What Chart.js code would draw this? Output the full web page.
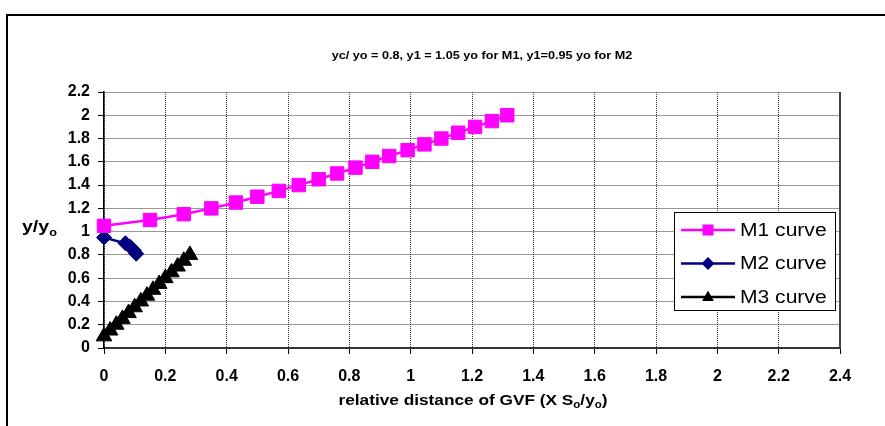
<!DOCTYPE html>
<html>
<head>
<meta charset="utf-8">
<script src="https://cdn.jsdelivr.net/npm/chart.js@4"></script>
<style>
  body { margin: 0; background: #fff; }
  #wrap { width: 885px; height: 426px; }
</style>
</head>
<body>
<div id="wrap"><canvas id="gvfChart" width="885" height="426"></canvas></div>
<script>
// values
var m1X = [0, 0.15, 0.26, 0.35, 0.43, 0.50, 0.57, 0.635, 0.70, 0.76, 0.82, 0.875, 0.93, 0.99, 1.045, 1.10, 1.155, 1.21, 1.265, 1.315];
var m1Y = [1.05, 1.10, 1.15, 1.20, 1.25, 1.30, 1.35, 1.40, 1.45, 1.50, 1.55, 1.60, 1.65, 1.70, 1.75, 1.80, 1.85, 1.90, 1.95, 2.00];
var m2X = [0, 0.07, 0.085, 0.097, 0.105];
var m2Y = [0.95, 0.90, 0.87, 0.84, 0.81];
var m3X = [0, 0.02, 0.04, 0.06, 0.08, 0.10, 0.12, 0.14, 0.16, 0.18, 0.20, 0.22, 0.24, 0.26, 0.28];
var m3Y = [0.10, 0.15, 0.20, 0.25, 0.30, 0.35, 0.40, 0.45, 0.50, 0.55, 0.60, 0.65, 0.70, 0.75, 0.80];
var seriesNames = ["M1 curve", "M2 curve", "M3 curve"];
var chartTitle = "yc/ yo = 0.8, y1 = 1.05 yo for M1, y1=0.95 yo for M2";

var FONT = "'Liberation Sans', Arial, sans-serif";
var SX = 1.15; // the picture's text is a bit wide

function pts(xs, ys) {
	return xs.map(function (x, i) { return { x: x, y: ys[i] }; });
}

//draws text made of parts, some of them subscript
function richText(ctx, parts, x, y, size, align) {
	var subSize = Math.round(size * 0.65);
	var total = 0;
	parts.forEach(function (p) {
		ctx.font = "bold " + (p.sub ? subSize : size) + "px " + FONT;
		p.w = ctx.measureText(p.t).width;
		total += p.w;
	});
	var cx = align === 'center' ? x - total * SX / 2 : x;
	ctx.save();
	ctx.translate(cx, y);
	ctx.scale(SX, 1);
	ctx.textAlign = 'left';
	ctx.textBaseline = 'alphabetic';
	ctx.fillStyle = '#000';
	var off = 0;
	parts.forEach(function (p) {
		ctx.font = "bold " + (p.sub ? subSize : size) + "px " + FONT;
		ctx.fillText(p.t, off, p.sub ? size * 0.22 : 0);
		off += p.w;
	});
	ctx.restore();
}

function marker(ctx, style, x, y, r, color) {
	ctx.fillStyle = color;
	ctx.beginPath();
	if (style === 'rect') {
		ctx.rect(x - r, y - r, 2 * r, 2 * r);
	} else if (style === 'rectRot') {
		ctx.moveTo(x, y - r); ctx.lineTo(x + r, y); ctx.lineTo(x, y + r); ctx.lineTo(x - r, y);
	} else {
		ctx.moveTo(x, y - r); ctx.lineTo(x + r * 0.9, y + r * 0.6); ctx.lineTo(x - r * 0.9, y + r * 0.6);
	}
	ctx.closePath();
	ctx.fill();
}

var decor = {
	id: 'decor',
	afterDraw: function (chart) {
		var ctx = chart.ctx;
		var area = chart.chartArea;
		ctx.save();
		//outer frame
		ctx.strokeStyle = '#000';
		ctx.lineWidth = 2;
		ctx.beginPath();
		ctx.moveTo(7, 426); ctx.lineTo(7, 15); ctx.lineTo(885, 15);
		ctx.stroke();
		//right edge of plot area
		ctx.strokeStyle = '#444';
		ctx.lineWidth = 2;
		ctx.beginPath();
		ctx.moveTo(area.right, area.top); ctx.lineTo(area.right, area.bottom);
		ctx.stroke();
		ctx.restore();

		richText(ctx, [{ t: chartTitle }], 482, 59, 11, 'center');
		richText(ctx, [{ t: 'y/y' }, { t: 'o', sub: true }], 22, 232, 17, 'left');
		richText(ctx, [{ t: 'relative distance of GVF (X S' }, { t: 'o', sub: true }, { t: '/y' }, { t: 'o', sub: true }, { t: ')' }], 473, 405, 15, 'center');

		//legend box
		ctx.save();
		ctx.fillStyle = '#fff';
		ctx.fillRect(674.5, 212.5, 161, 98);
		ctx.strokeStyle = '#000';
		ctx.lineWidth = 1;
		ctx.strokeRect(674.5, 212.5, 161, 98);
		var rows = [230, 263.5, 297];
		chart.data.datasets.forEach(function (ds, i) {
			var y = rows[i];
			ctx.strokeStyle = ds.borderColor;
			ctx.lineWidth = 2.5;
			ctx.beginPath();
			ctx.moveTo(681, y); ctx.lineTo(735, y);
			ctx.stroke();
			marker(ctx, ds.pointStyle, 708, y, ds.pointStyle === 'rect' ? 5.5 : 6.5, ds.backgroundColor);
			ctx.save();
			ctx.translate(740, y);
			ctx.scale(1.17, 1);
			ctx.font = "18px " + FONT;
			ctx.fillStyle = '#000';
			ctx.textBaseline = 'middle';
			ctx.fillText(ds.label, 0, 1);
			ctx.restore();
		});
		ctx.restore();
	}
};

var gvfChart = new Chart(document.getElementById('gvfChart'), {
	type: 'scatter',
	data: {
		datasets: [
			//M1
			{
				label: seriesNames[0],
				data: pts(m1X, m1Y),
				showLine: true,
				borderColor: '#FF00FF',
				backgroundColor: '#FF00FF',
				borderWidth: 2.5,
				pointStyle: 'rect',
				pointRadius: 9.5,
				pointBorderWidth: 1,
				clip: false
			},
			//M2
			{
				label: seriesNames[1],
				data: pts(m2X, m2Y),
				showLine: true,
				borderColor: '#000080',
				backgroundColor: '#000080',
				borderWidth: 2.5,
				pointStyle: 'rectRot',
				pointRadius: 7.5,
				pointBorderWidth: 1,
				clip: false
			},
			//M3
			{
				label: seriesNames[2],
				data: pts(m3X, m3Y),
				showLine: true,
				borderColor: '#000000',
				backgroundColor: '#000000',
				borderWidth: 2,
				pointStyle: 'triangle',
				pointRadius: 9,
				pointBorderWidth: 1,
				clip: false
			}
		]
	},
	options: {
		responsive: false,
		animation: false,
		layout: { padding: { left: 0, right: 45, top: 92, bottom: 0 } },
		plugins: {
			legend: { display: false },
			title: { display: false },
			tooltip: { enabled: false }
		},
		scales: {
			x: {
				type: 'linear',
				min: 0,
				max: 2.4,
				afterFit: function (s) { s.height = 78; },
				ticks: {
					stepSize: 0.2,
					color: '#000',
					font: { family: FONT, size: 16, weight: 'bold' },
					padding: 13,
					maxRotation: 0,
					callback: function (v) { return String(+v.toFixed(1)); }
				},
				grid: { color: '#333', lineWidth: 1, tickLength: 6, tickColor: '#000', tickBorderDash: [] },
				border: { color: '#333', width: 2, dash: [1, 1] }
			},
			y: {
				type: 'linear',
				min: 0,
				max: 2.2,
				afterFit: function (s) { s.width = 104; },
				ticks: {
					stepSize: 0.2,
					color: '#000',
					font: { family: FONT, size: 16, weight: 'bold' },
					padding: 8,
					callback: function (v) { return String(+v.toFixed(1)); }
				},
				grid: { color: '#333', lineWidth: 1, tickLength: 6, tickColor: '#000', tickBorderDash: [] },
				border: { color: '#000', width: 1.5, dash: [1, 1] }
			}
		}
	},
	plugins: [decor]
});
</script>
</body>
</html>
